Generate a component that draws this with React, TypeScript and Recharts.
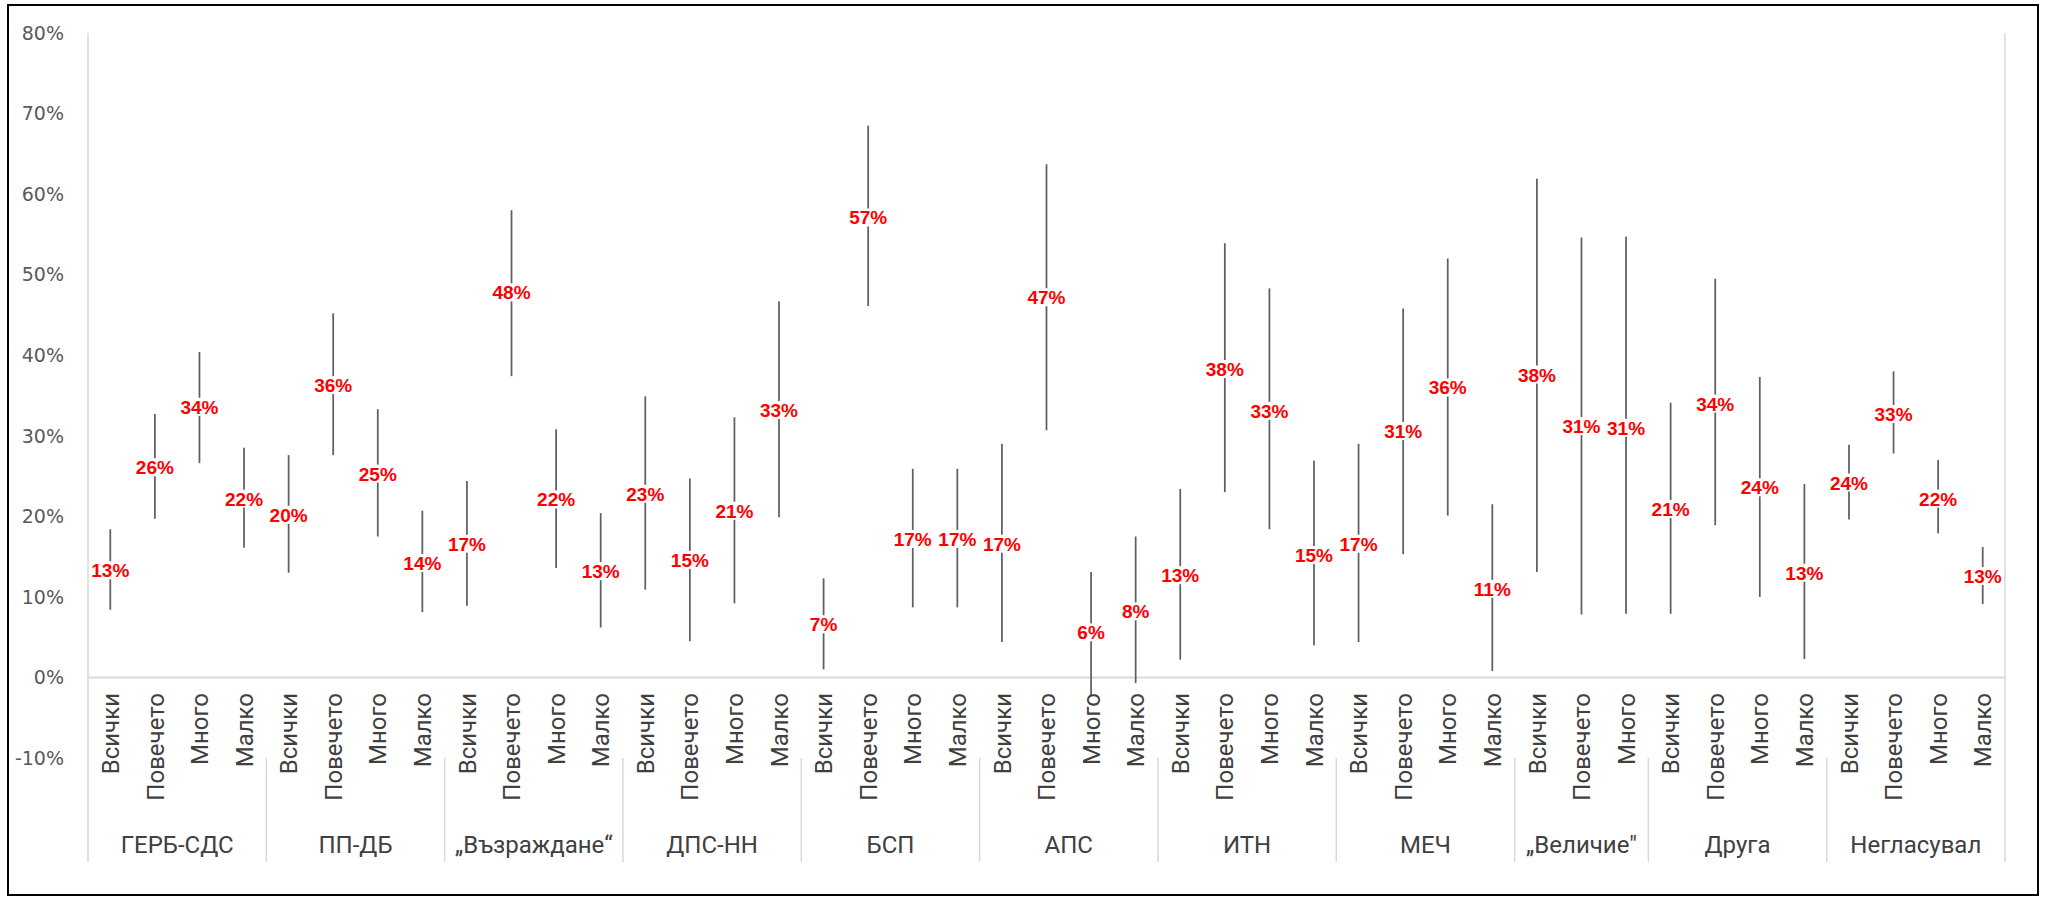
import React from 'react';
import { ComposedChart, Scatter, ErrorBar, XAxis, YAxis, CartesianGrid, ReferenceLine } from 'recharts';

// parties and how many sub-categories each has
const groups = ['ГЕРБ-СДС', 'ПП-ДБ', '„Възраждане“', 'ДПС-НН', 'БСП', 'АПС', 'ИТН', 'МЕЧ', '„Величие"', 'Друга', 'Негласувал'];
const groupSizes = [4, 4, 4, 4, 4, 4, 4, 4, 3, 4, 4];
const subLabels = ['Всички', 'Повечето', 'Много', 'Малко'];

// point estimate (%), lower and upper bounds (%) per category, left to right
const values = [
  13.3, 26.1, 33.6, 22.2,
  20.2, 36.3, 25.3, 14.2,
  16.6, 47.8, 22.1, 13.2,
  22.8, 14.6, 20.7, 33.2,
  6.6, 57.1, 17.2, 17.2,
  16.6, 47.2, 5.6, 8.2,
  12.7, 38.3, 33.1, 15.2,
  16.6, 30.6, 36.0, 11.0,
  37.6, 31.2, 31.0,
  20.9, 34.0, 23.6, 13.0,
  24.2, 32.7, 22.2, 12.6,
];
const lows = [
  8.4, 19.7, 26.6, 16.1,
  13.0, 27.6, 17.5, 8.1,
  8.9, 37.4, 13.6, 6.2,
  10.9, 4.5, 9.2, 19.9,
  1.0, 46.1, 8.7, 8.7,
  4.4, 30.7, -2.2, -0.7,
  2.2, 23.0, 18.4, 4.0,
  4.4, 15.3, 20.1, 0.8,
  13.1, 7.8, 7.9,
  7.9, 18.9, 10.0, 2.3,
  19.6, 27.8, 17.9, 9.1,
];
const highs = [
  18.4, 32.7, 40.4, 28.5,
  27.6, 45.2, 33.3, 20.7,
  24.4, 58.0, 30.8, 20.4,
  34.9, 24.7, 32.3, 46.7,
  12.3, 68.5, 25.9, 25.9,
  29.0, 63.7, 13.1, 17.5,
  23.4, 53.9, 48.3, 26.9,
  29.0, 45.8, 52.0, 21.5,
  61.9, 54.6, 54.7,
  34.1, 49.5, 37.3, 24.0,
  28.9, 38.0, 27.0, 16.2,
];
const yTicks = [-10, 0, 10, 20, 30, 40, 50, 60, 70, 80];

// build rows
const catNames: string[] = [];
groupSizes.forEach((n) => {
  for (let k = 0; k < n; k++) catNames.push(subLabels[k]);
});
const rows = values.map((v, i) => ({
  x: i + 0.5,
  value: v,
  err: [v - lows[i], highs[i] - v],
  name: catNames[i],
}));
const edges = [0];
groupSizes.forEach((n) => edges.push(edges[edges.length - 1] + n));
const groupCenters = groups.map((_, i) => (edges[i] + edges[i + 1]) / 2);
const catCenters = rows.map((r) => r.x);
const catEdges = Array.from({ length: rows.length + 1 }, (_, i) => i);

const GRID = '#d9d9d9';

function CatTick({ x, y, payload }: any) {
  const i = catCenters.indexOf(payload.value);
  if (i < 0) return null;
  return (
    <text
      transform={`translate(${x},${y - 65}) rotate(-90)`}
      textAnchor="end"
      dy="0.36em"
      fontFamily="Roboto"
      fontSize={24}
      fill="#404040"
    >
      {catNames[i]}
    </text>
  );
}

function GroupTick({ x, y, payload }: any) {
  const gi = groupCenters.indexOf(payload.value);
  if (gi < 0) {
    return <line x1={x} x2={x} y1={y - 60} y2={y + 44} stroke={GRID} strokeWidth={1.5} />;
  }
  return (
    <text x={x} y={y + 35} textAnchor="middle" fontFamily="Roboto" fontSize={24} fill="#404040">
      {groups[gi]}
    </text>
  );
}

function PctLabel({ cx, cy, payload }: any) {
  const txt = `${Math.round(payload.value)}%`;
  const w = txt.length === 2 ? 28 : 40;
  return (
    <g>
      <rect x={cx - w / 2} y={cy - 9} width={w} height={18} fill="#fff" />
      <text
        x={cx}
        y={cy + 7}
        textAnchor="middle"
        fontFamily="Liberation Sans"
        fontWeight="bold"
        fontSize={19}
        fill="#ff0000"
      >
        {txt}
      </text>
    </g>
  );
}

export default function App() {
  return (
    <div style={{ position: 'absolute', left: 0, top: 0, width: 2045, height: 897, background: '#fff' }}>
      <ComposedChart
        width={2045}
        height={897}
        data={rows}
        margin={{ top: 33, right: 40, bottom: 0, left: 0 }}
      >
        <CartesianGrid horizontal={false} stroke={GRID} strokeWidth={1.5} />
        <XAxis
          dataKey="x"
          type="number"
          domain={[0, 43]}
          ticks={catEdges}
          interval={0}
          height={0}
          tick={false}
          axisLine={false}
          tickLine={false}
        />
        <XAxis
          xAxisId="cat"
          dataKey="x"
          type="number"
          domain={[0, 43]}
          ticks={catCenters}
          interval={0}
          height={60}
          tickSize={0}
          tickMargin={0}
          axisLine={false}
          tickLine={false}
          tick={<CatTick />}
        />
        <XAxis
          xAxisId="grp"
          dataKey="x"
          type="number"
          domain={[0, 43]}
          ticks={[...edges, ...groupCenters]}
          interval={0}
          height={79}
          tickSize={0}
          tickMargin={0}
          axisLine={false}
          tickLine={false}
          tick={<GroupTick />}
        />
        <YAxis
          type="number"
          domain={[-10, 80]}
          ticks={yTicks}
          interval={0}
          width={88}
          axisLine={false}
          tickLine={false}
          tickSize={0}
          tickMargin={24}
          tickFormatter={(v) => `${v}%`}
          tick={{ fill: '#595959', fontSize: 19, fontFamily: 'DejaVu Sans' }}
        />
        <ReferenceLine y={0} stroke={GRID} strokeWidth={2} />
        <Scatter dataKey="value" shape={<PctLabel />} isAnimationActive={false}>
          <ErrorBar dataKey="err" direction="y" width={0} stroke="#5f5f5f" strokeWidth={1.75} isAnimationActive={false} />
        </Scatter>
      </ComposedChart>
      <div
        style={{
          position: 'absolute',
          left: 7,
          top: 4,
          width: 2032,
          height: 892,
          border: '2px solid #000',
          boxSizing: 'border-box',
          pointerEvents: 'none',
        }}
      />
    </div>
  );
}
